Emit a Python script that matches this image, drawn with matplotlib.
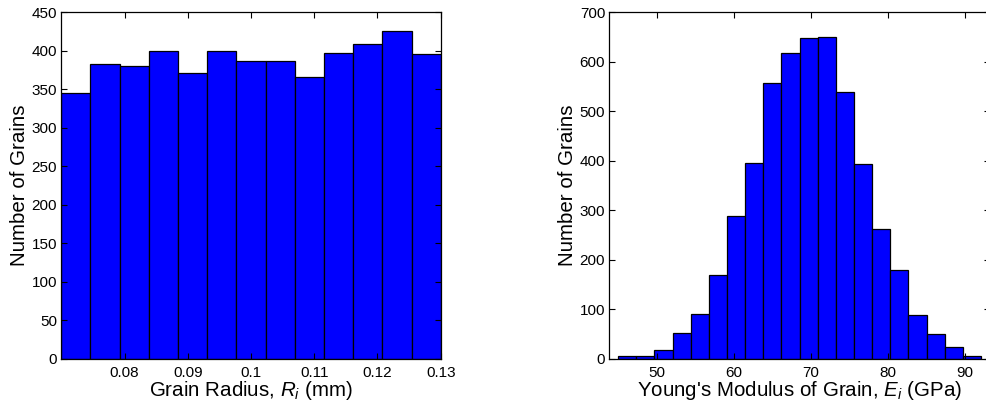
import matplotlib
matplotlib.use("Agg")
import matplotlib.pyplot as plt
import numpy as np

plt.rcParams["font.family"] = ["Liberation Sans", "DejaVu Sans"]
plt.rcParams["mathtext.fontset"] = "custom"
plt.rcParams["mathtext.rm"] = "Liberation Sans"
plt.rcParams["mathtext.it"] = "Liberation Sans:italic"

# grain radius histogram (mm), 13 bins over 0.07-0.13
radius_range = (0.07, 0.13)
radius_counts = [345, 383, 380, 400, 371, 399, 386, 386, 366, 397, 408, 426, 395]
radius_ticks = [0.08, 0.09, 0.1, 0.11, 0.12, 0.13]
radius_ticklabels = ["0.08", "0.09", "0.1", "0.11", "0.12", "0.13"]

# Young's modulus histogram (GPa), 20 bins
modulus_range = (45.0, 92.1)
modulus_counts = [6, 6, 19, 52, 90, 170, 288, 395, 557, 617,
                  648, 650, 539, 393, 263, 180, 89, 50, 25, 6]
modulus_ticks = [50, 60, 70, 80, 90]

fig = plt.figure(figsize=(9.86, 4.03), dpi=100)
W, H = 986, 403


def add_axes_px(x0, x1, y_top, y_bot):
    return fig.add_axes([x0 / W, (H - y_bot) / H, (x1 - x0) / W, (y_bot - y_top) / H])


def style(ax):
    ax.tick_params(direction="in", top=True, right=True, labelsize=11,
                   length=4, width=0.8)
    ax.tick_params(axis="x", pad=5)
    ax.tick_params(axis="y", pad=3)
    for s in ax.spines.values():
        s.set_linewidth(0.9)


def draw_hist(ax, counts, rng):
    edges = np.linspace(rng[0], rng[1], len(counts) + 1)
    ax.bar(edges[:-1], counts, width=np.diff(edges), align="edge",
           color="#0000ff", edgecolor="black", linewidth=0.9)


ax1 = add_axes_px(61.3, 440.7, 12, 359)
draw_hist(ax1, radius_counts, radius_range)
ax1.set_xlim(0.07, 0.13)
ax1.set_ylim(0, 450)
ax1.set_xticks(radius_ticks)
ax1.set_xticklabels(radius_ticklabels)
ax1.set_yticks(np.arange(0, 451, 50))
ax1.set_xlabel("Grain Radius, $R_i$ (mm)", fontsize=14.8, labelpad=-1)
ax1.set_ylabel("Number of Grains", fontsize=14.8, labelpad=2)
style(ax1)

ax2 = add_axes_px(609.3, 990, 12, 359)
draw_hist(ax2, modulus_counts, modulus_range)
ax2.set_xlim(43.84, 43.84 + (990 - 609.3) / 7.7)
ax2.set_ylim(0, 700)
ax2.set_xticks(modulus_ticks)
ax2.set_yticks(np.arange(0, 701, 100))
ax2.set_xlabel("Young's Modulus of Grain, $E_i$ (GPa)", fontsize=14.8, labelpad=-1)
ax2.set_ylabel("Number of Grains", fontsize=14.8, labelpad=2)
style(ax2)

fig.savefig("out.png", dpi=100)
